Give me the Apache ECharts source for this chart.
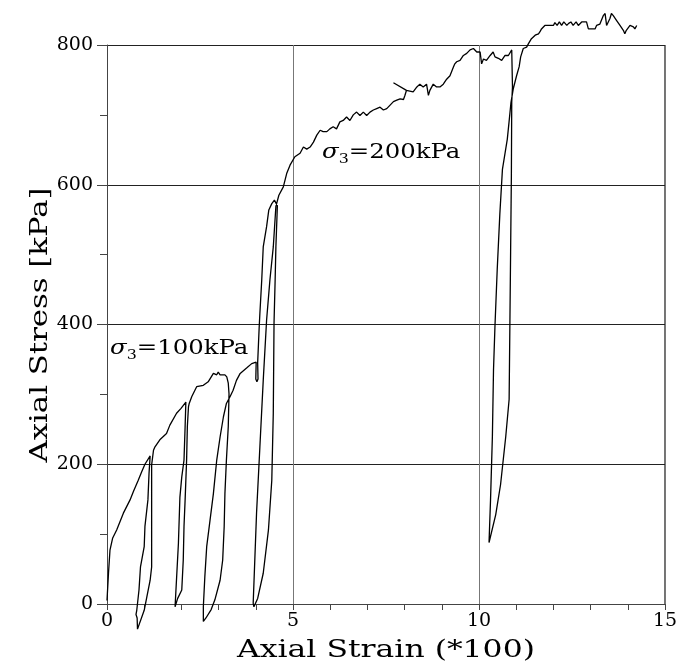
<!DOCTYPE html>
<html><head><meta charset="utf-8">
<script src="https://cdn.jsdelivr.net/npm/echarts@6/dist/echarts.min.js"></script>
<style>html,body{margin:0;padding:0;background:#fff}#c{width:693px;height:665px}</style>
</head><body><div id="c"></div>
<script>
// [axial strain (*100), axial stress kPa] along the single test path
const loading1   = [[0,5],[0.04,44],[0.08,77],[0.15,94],[0.26,106],[0.44,130],[0.62,149],[0.71,161],[0.84,177],[0.93,189],[1.02,200],[1.16,212]];
const unloading1 = [[1.13,187],[1.10,149],[1.02,111],[1.00,82],[0.90,53],[0.86,20],[0.80,-9],[0.78,-15],[0.81,-20],[0.82,-36]];
const reloading1 = [[1.00,-9],[1.07,10],[1.16,34],[1.20,53],[1.20,120],[1.20,199],[1.25,220],[1.29,225],[1.42,235]];
const loading2   = [[1.60,244],[1.69,256],[1.87,273],[1.99,280],[2.12,289]];
const unloading2 = [[2.10,254],[2.07,206],[2.01,182],[1.96,153],[1.92,87],[1.83,-4],[1.82,-5]];
const reloading2 = [[1.90,8],[2.01,20],[2.05,63],[2.07,111],[2.10,149],[2.14,206],[2.16,254],[2.19,282]];
const loading3   = [[2.21,287],[2.28,297],[2.41,311],[2.59,313],[2.72,318],[2.86,330],[2.95,328],[2.99,332],[3.04,328],[3.17,328],[3.22,325],[3.26,316]];
const unloading3 = [[3.28,301],[3.26,254],[3.21,206],[3.17,158],[3.15,111],[3.11,63],[3.04,34],[2.90,6],[2.80,-8],[2.66,-20],[2.59,-25]];
const reloading3 = [[2.59,-4],[2.63,39],[2.68,82],[2.77,120],[2.86,158],[2.95,206],[3.04,239],[3.13,268],[3.21,287],[3.31,297],[3.39,306]];
const loading4   = [[3.48,320],[3.58,330],[3.76,338],[3.89,344],[4.01,346],[4.00,322],[4.03,318],[4.06,322],[4.05,345]];
const loading4b  = [[4.09,395],[4.11,416],[4.16,464],[4.20,511],[4.29,540],[4.35,564],[4.43,573],[4.50,578]];
const unloading4 = [[4.58,570],[4.54,511],[4.52,464],[4.49,402],[4.47,273],[4.43,177],[4.34,106],[4.20,44],[4.05,8],[3.95,-4],[3.92,-6]];
const reloading4 = [[3.93,1],[4.02,130],[4.11,225],[4.20,320],[4.29,406],[4.38,464],[4.47,511],[4.54,569],[4.62,585]];
const loading5   = [[4.74,597],[4.83,616],[4.92,628],[5.05,640],[5.19,645],[5.28,654],[5.37,651],[5.46,654],[5.55,661],[5.64,671],
                    [5.73,678],[5.81,676],[5.91,676],[5.99,680],[6.08,683],[6.17,680],[6.26,690],[6.35,692],[6.44,697],[6.53,692],
                    [6.62,700],[6.71,704],[6.80,699],[6.89,704],[6.98,699],[7.07,704],[7.16,707],[7.25,709],[7.34,711],[7.43,707],
                    [7.52,709],[7.61,714],[7.70,719],[7.79,721],[7.88,723],[7.97,722],[8.01,728],[8.05,735],[7.70,746],[8.05,735]];
const loading5b  = [[8.14,734],[8.23,733],[8.33,740],[8.41,744],[8.50,740],[8.59,744],[8.64,728],[8.68,735],[8.77,744],[8.86,740],
                    [8.95,740],[9.04,744],[9.13,751],[9.22,756],[9.31,768],[9.35,773],[9.40,776],[9.49,778],[9.58,785],[9.67,788],
                    [9.76,793],[9.85,795],[9.94,790],[10.03,790],[10.07,773],[10.12,780],[10.20,778],[10.30,785],[10.38,790],[10.43,783],
                    [10.52,781],[10.56,783],[10.61,778],[10.70,785],[10.79,785],[10.88,793],[10.90,795]];
const unloading5 = [[10.90,740],[10.88,718],[10.87,611],[10.85,505],[10.83,399],[10.81,293],[10.72,240],[10.58,171],[10.45,128],[10.27,88]];
const reloading5 = [[10.31,149],[10.36,240],[10.39,335],[10.43,399],[10.49,479],[10.56,558],[10.63,622],[10.76,665],[10.81,691],[10.86,718],
                    [10.92,737],[11.01,756],[11.08,769],[11.12,783],[11.19,795],[11.28,797],[11.33,802],[11.41,809],[11.51,814],[11.55,812],
                    [11.60,816],[11.64,819],[11.68,823],[11.77,828],[11.90,828]];
const loading6   = [[12.00,828],[12.04,832],[12.10,828],[12.16,833],[12.22,828],[12.28,833],[12.36,828],[12.41,831],[12.47,833],[12.53,828],
                    [12.61,833],[12.67,828],[12.76,833],[12.89,833],[12.94,823],[13.12,823],[13.16,828],[13.25,830],[13.34,842],[13.39,845],
                    [13.43,828],[13.52,838],[13.56,845],[13.61,842],[13.70,835],[13.79,828],[13.88,821],[13.92,816],[13.96,821],[14.06,828],
                    [14.15,826],[14.19,823],[14.24,828]];

const xRange = [0, 15], xStep = 5;
const yRange = [0, 800], yStep = 200;
const xTitle = 'Axial Strain (*100)';
const yTitle = 'Axial Stress [kPa]';
const note1 = {sym: 'σ', sub: '3', rest: '=100kPa'};
const note2 = {sym: 'σ', sub: '3', rest: '=200kPa'};

const path = [].concat(loading1, unloading1, reloading1, loading2, unloading2, reloading2,
  loading3, unloading3, reloading3, loading4, loading4b, unloading4, reloading4,
  loading5, loading5b, unloading5, reloading5, loading6);

const SERIF = 'DejaVu Serif';
function noteText(n) { return '{s|' + n.sym + '}{d|' + n.sub + '}{t|' + n.rest + '}'; }
const noteRich = {
  s: {fontFamily: SERIF, fontStyle: 'italic', fontSize: 20, lineHeight: 26, fill: '#000'},
  d: {fontFamily: SERIF, fontSize: 13, lineHeight: 26, verticalAlign: 'bottom', fill: '#000'},
  t: {fontFamily: SERIF, fontSize: 20, lineHeight: 26, fill: '#000'}
};

const chart = echarts.init(document.getElementById('c'), null, {renderer: 'canvas'});
chart.setOption({
  animation: false,
  backgroundColor: '#fff',
  grid: {left: 107, right: 28, top: 45, bottom: 61, containLabel: false},
  xAxis: {
    type: 'value', min: xRange[0], max: xRange[1], interval: xStep,
    axisLine: {show: true, onZero: false, lineStyle: {color: '#444', width: 1}},
    axisTick: {show: true, inside: false, length: 6, lineStyle: {color: '#444'}},
    minorTick: {show: true, splitNumber: 5, length: 6, lineStyle: {color: '#444'}},
    splitLine: {show: true, lineStyle: {color: '#777', width: 1}},
    axisLabel: {fontFamily: SERIF, fontSize: 19, color: '#000', margin: 8}
  },
  yAxis: {
    type: 'value', min: yRange[0], max: yRange[1], interval: yStep,
    axisLine: {show: true, onZero: false, lineStyle: {color: '#444', width: 1}},
    axisTick: {show: true, inside: false, length: 10, lineStyle: {color: '#444'}},
    minorTick: {show: true, splitNumber: 2, length: 7, lineStyle: {color: '#444'}},
    splitLine: {show: true, lineStyle: {color: '#222', width: 1}},
    axisLabel: {fontFamily: SERIF, fontSize: 19, color: '#000', margin: 14}
  },
  graphic: [
    {type: 'rect', shape: {x: 665, y: 45, width: 0, height: 559}, style: {stroke: '#444', lineWidth: 1, fill: null}, silent: true},
    {type: 'text', x: 386, y: 651, scaleX: 1.31, style: {text: xTitle, font: '24px "DejaVu Serif"', fill: '#000', align: 'center', verticalAlign: 'middle'}},
    {type: 'text', x: 41, y: 325, rotation: Math.PI / 2, scaleX: 1.28, style: {text: yTitle, font: '24px "DejaVu Serif"', fill: '#000', align: 'center', verticalAlign: 'middle'}},
    {type: 'text', x: 110, y: 349, scaleX: 1.22, style: {text: noteText(note1), rich: noteRich, align: 'left', verticalAlign: 'middle'}},
    {type: 'text', x: 322, y: 153, scaleX: 1.22, style: {text: noteText(note2), rich: noteRich, align: 'left', verticalAlign: 'middle'}}
  ],
  series: [{
    type: 'line', data: path, showSymbol: false, symbol: 'none', clip: false,
    lineStyle: {color: '#000', width: 1.3}, z: 5
  }]
});
</script></body></html>
